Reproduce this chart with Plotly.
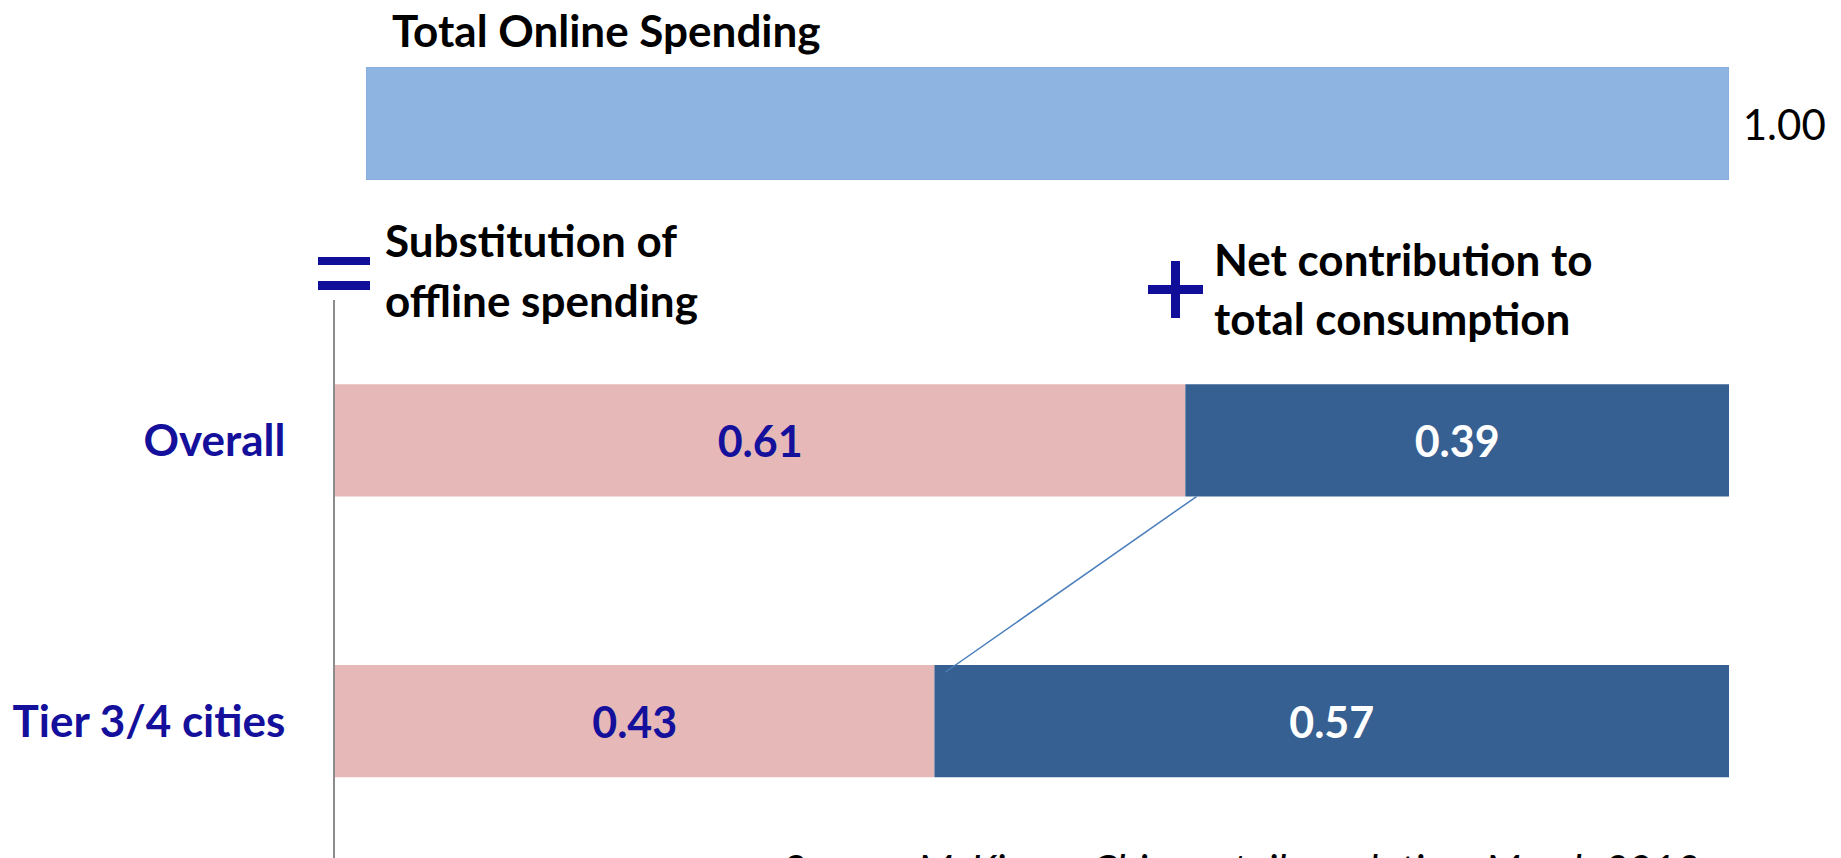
import plotly.graph_objects as go

# ---------------- data ----------------
categories = ["Overall", "Tier 3/4 cities"]
substitution = [0.61, 0.43]
net_contribution = [0.39, 0.57]
total_label = "Total Online Spending"
total_value = [1.00]
series_names = ["Substitution of offline spending", "Net contribution to total consumption"]
source_text = "Source: McKinsey China retail revolution, March 2013"

# ---------------- styling ----------------
W, H = 1841, 858
FONT = "Lato"
FS = 44        # bold headings / category labels
FS_VAL = 43    # values inside bars
FS_TOT = 42    # value next to top bar
FS_SRC = 41    # source line
DARKBLUE = "#14109C"
PINK = "#E6B8B7"
NAVY = "#376092"
LIGHTBLUE = "#8EB4E2"
BAR_W = 0.4


def px(x):
    return x / W


def py(y):
    return 1 - y / H


ypos = [len(categories) - 1 - i for i in range(len(categories))]

fig = go.Figure()

# top bar: total online spending
fig.add_trace(go.Bar(
    x=total_value, y=[0], orientation="h", width=BAR_W,
    marker=dict(color=LIGHTBLUE, line=dict(color="#84AADC", width=1)),
    text=[f" {v:.2f}" for v in total_value], textposition="outside", cliponaxis=False,
    outsidetextfont=dict(family=FONT, size=FS_TOT, color="#000000"),
    xaxis="x2", yaxis="y2", showlegend=False, hoverinfo="x",
))

# stacked bars
fig.add_trace(go.Bar(
    name=series_names[0], x=substitution, y=ypos, orientation="h", width=BAR_W,
    marker=dict(color=PINK, line=dict(width=0)),
    text=[f"{v:.2f}" for v in substitution], textposition="inside", insidetextanchor="middle",
    insidetextfont=dict(family=FONT, size=FS_VAL, color=DARKBLUE, weight="bold"),
    textangle=0, showlegend=False,
))
fig.add_trace(go.Bar(
    name=series_names[1], x=net_contribution, y=ypos, orientation="h", width=BAR_W,
    base=substitution,
    marker=dict(color=NAVY, line=dict(width=0)),
    text=[f"{v:.2f}" for v in net_contribution], textposition="inside", insidetextanchor="middle",
    insidetextfont=dict(family=FONT, size=FS_VAL, color="#FFFFFF", weight="bold"),
    textangle=0, showlegend=False,
))

# series connector line between the starts of the net-contribution segments
fig.add_trace(go.Scatter(
    x=[substitution[0] + 0.008, substitution[1] + 0.008],
    y=[ypos[0] - BAR_W / 2, ypos[1] + BAR_W / 2 - 0.025],
    mode="lines", line=dict(color="#4A7EBB", width=1.5),
    showlegend=False, hoverinfo="skip",
))

fig.update_layout(
    width=W, height=H,
    margin=dict(l=0, r=0, t=0, b=0),
    paper_bgcolor="white", plot_bgcolor="white",
    barmode="overlay",
    font=dict(family=FONT, size=FS, color="#000000"),
    xaxis=dict(domain=[px(335), px(1729)], range=[0, 1], visible=False, fixedrange=True),
    yaxis=dict(domain=[0, py(300)], range=[-0.4875, 1.5],
               tickvals=ypos, ticktext=categories, ticks="",
               tickfont=dict(family=FONT, size=FS, color=DARKBLUE, weight="bold"),
               ticklabelstandoff=39,
               showline=True, linecolor="#8C8C8C", linewidth=1.5,
               showgrid=False, zeroline=False, fixedrange=True),
    xaxis2=dict(domain=[px(366), px(1729)], range=[0, 1], visible=False, anchor="y2"),
    yaxis2=dict(domain=[py(180), py(67)], range=[-BAR_W / 2, BAR_W / 2], visible=False, anchor="x2"),
    showlegend=False,
)

ann = []
ann.append(dict(text=total_label, x=px(390), y=py(30), xref="paper", yref="paper",
                xanchor="left", yanchor="middle", showarrow=False,
                font=dict(family=FONT, size=FS, color="#000000", weight="bold")))
left_lines = ["Substitution of", "offline spending"]
right_lines = ["Net contribution to", "total consumption"]
for txt, yy in zip(left_lines, [240, 300]):
    ann.append(dict(text=txt, x=px(383), y=py(yy), xref="paper", yref="paper",
                    xanchor="left", yanchor="middle", showarrow=False,
                    font=dict(family=FONT, size=FS, color="#000000", weight="bold")))
for txt, yy in zip(right_lines, [259, 318]):
    ann.append(dict(text=txt, x=px(1212), y=py(yy), xref="paper", yref="paper",
                    xanchor="left", yanchor="middle", showarrow=False,
                    font=dict(family=FONT, size=FS, color="#000000", weight="bold")))
ann.append(dict(text=source_text, x=px(781), y=py(868), xref="paper", yref="paper",
                xanchor="left", yanchor="middle", showarrow=False,
                font=dict(family=FONT, size=FS_SRC, color="#000000", style="italic")))
fig.update_layout(annotations=ann)

# "=" and "+" symbols
sym = []
for (x0, y0, x1, y1) in [(318, 257, 370, 265), (318, 281, 370, 290),
                         (1148, 285, 1203, 294), (1171, 261, 1180, 318)]:
    sym.append(dict(type="rect", xref="paper", yref="paper",
                    x0=px(x0), x1=px(x1), y0=py(y1), y1=py(y0),
                    fillcolor="#110E9A", line=dict(width=0), layer="above"))
fig.update_layout(shapes=sym)

fig.write_html("out.html", config={"displayModeBar": False},
               post_script="document.body.style.margin='0';document.body.style.overflow='hidden';")
